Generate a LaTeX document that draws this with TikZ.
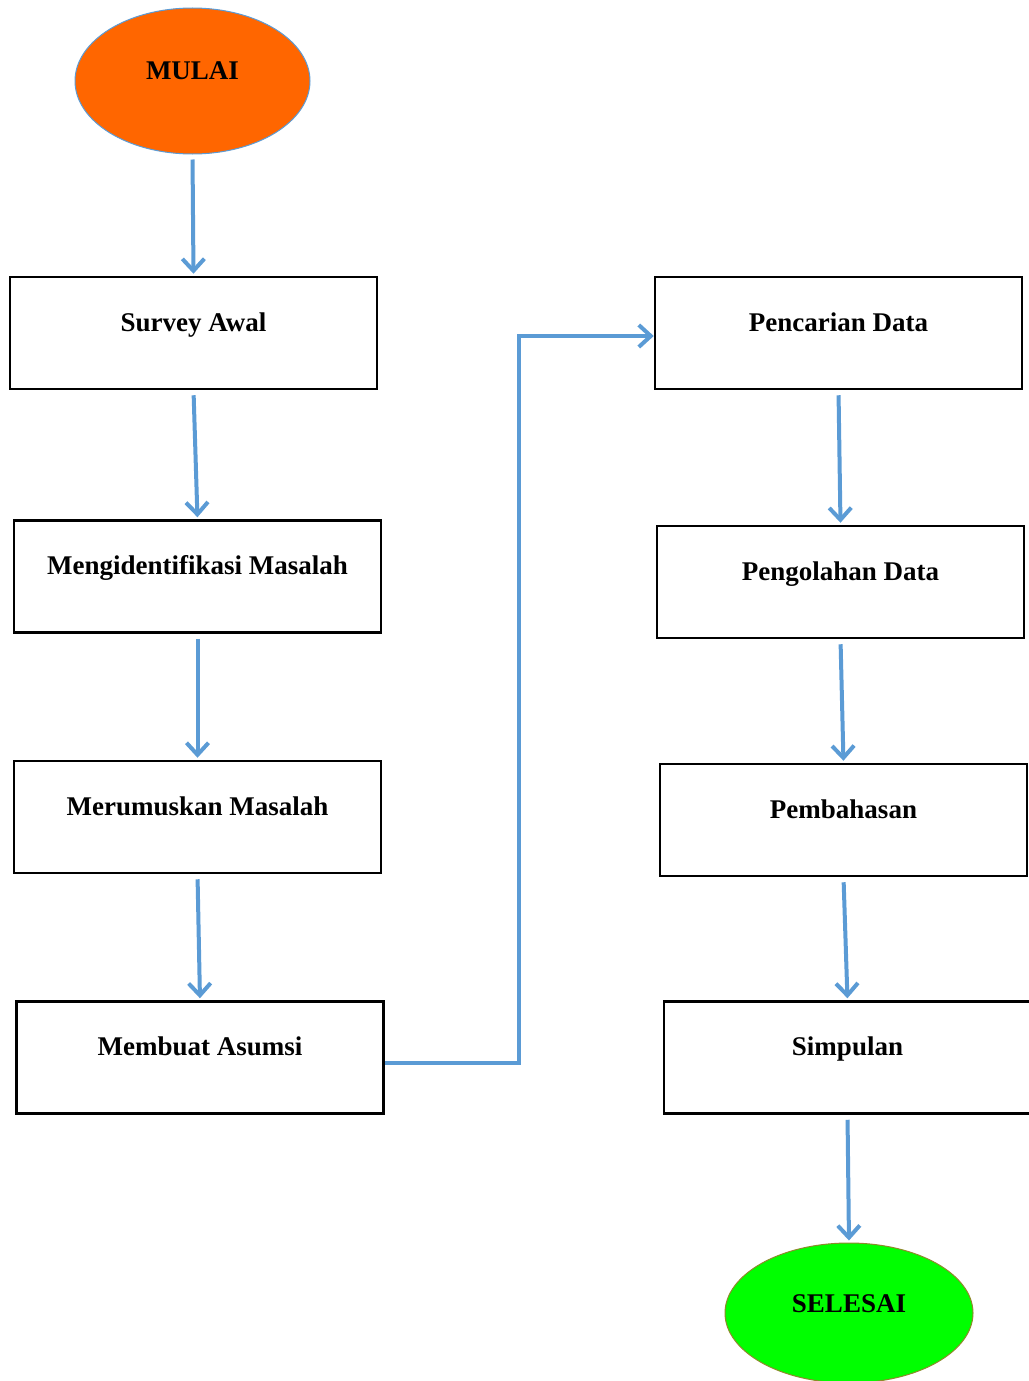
\documentclass[tikz,border=0pt]{standalone}
\usepackage{fontspec}
\setmainfont{Liberation Serif}
\usepackage{xcolor}
\usetikzlibrary{positioning,shapes,arrows.meta}

\definecolor{garisbiru}{HTML}{5B9BD5}
\definecolor{oranye}{HTML}{FF6600}
\definecolor{hijau}{HTML}{00FF00}

\begin{document}
\begin{tikzpicture}[x=1pt,y=-1pt]
\tikzstyle{every node}=[font=\fontsize{27}{32}\selectfont\bfseries];
\tikzstyle{kotak}=[draw,line width=2.5pt,minimum width=367pt,inner ysep=0pt,text height=54pt,text depth=58pt];
\tikzstyle{lonjong}=[ellipse,inner sep=0pt,text height=18pt,text depth=20pt];
\tikzstyle{panah}=[draw=garisbiru,line width=4pt,-{Straight Barb[length=12pt,width=22pt]},shorten <=5pt,shorten >=2pt];

\useasboundingbox (0,0) rectangle (1028,1381);

\node[lonjong,fill=oranye,draw=garisbiru,line width=1pt,minimum width=235pt,minimum height=146pt] (mulai) at (192.5,81) {MULAI};
\node[kotak] (survei) at (193.5,333) {Survey Awal};
\node[kotak] (identifikasi) at (197.5,576.5) {Mengidentifikasi Masalah};
\node[kotak] (rumus) at (197.5,817) {Merumuskan Masalah};
\node[kotak] (asumsi) at (200,1057.5) {Membuat Asumsi};

\node[kotak] (cari) at (838.5,333) {Pencarian Data};
\node[kotak] (olah) at (840.5,582) {Pengolahan Data};
\node[kotak] (bahas) at (843.5,820) {Pembahasan};
\node[kotak] (simpul) at (847.5,1057.5) {Simpulan};
\node[lonjong,fill=hijau,draw=olive!70!gray,line width=1pt,minimum width=248pt,minimum height=140pt] (selesai) at (849,1313) {SELESAI};

\foreach \a/\b in {mulai/survei,survei/identifikasi,identifikasi/rumus,rumus/asumsi,
cari/olah,olah/bahas,bahas/simpul,simpul/selesai}
\draw[panah] (\a.south) -- (\b.north);

% sambungan ke kolom kanan
\coordinate (siku) at (519,336);
\draw[panah,shorten <=0pt,shorten >=0pt] ([yshift=-5pt]asumsi.east) -| (siku) -- ([yshift=-3pt]cari.west);
\end{tikzpicture}
\end{document}
